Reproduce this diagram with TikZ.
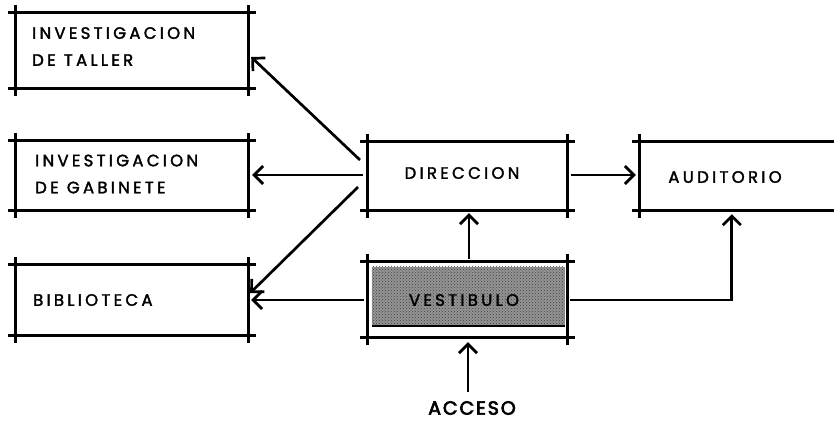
\documentclass[tikz,border=0pt]{standalone}
\usepackage{fontspec}
\setmainfont{Poppins}
\newfontfamily\hand[LetterSpace=20,FakeBold=2]{Poppins}
\newfontfamily\handb[LetterSpace=10,FakeBold=3.5]{Poppins}
\usetikzlibrary{arrows.meta,calc,patterns}
\begin{document}
\begin{tikzpicture}[x=1pt,y=-1pt,
  room/.style={inner sep=0pt, draw=none},
  frame/.style={line width=2.7pt, shorten <=-8pt, shorten >=-8pt},
  conn/.style={line width=2.7pt, -{Straight Barb[length=9pt,width=18pt,line width=2.7pt]}},
  lbl/.style={font=\hand\fontsize{16.5}{27}\selectfont, align=left, inner sep=0pt}]
\useasboundingbox (0,0) rectangle (834,421);
% rooms
\node[room, minimum width=232pt, minimum height=75pt] (taller) at (132,50.5) {};
\node[room, minimum width=232pt, minimum height=69pt] (gabinete) at (132,175.5) {};
\node[room, minimum width=232pt, minimum height=70pt] (biblio) at (132,300) {};
\node[room, minimum width=199pt, minimum height=68pt] (direccion) at (467.5,176) {};
\node[room, minimum width=199pt, minimum height=75pt] (vestibulo) at (467.5,299.5) {};
\node[room, minimum width=194pt, minimum height=68pt] (auditorio) at (737,176) {};
% vestibulo shading
\fill[black!42] ($(vestibulo.north west)+(4,5)$) rectangle ($(vestibulo.south east)+(-2,-11)$);
\fill[pattern=crosshatch dots, pattern color=black!75] ($(vestibulo.north west)+(4,5)$) rectangle ($(vestibulo.south east)+(-2,-11)$);
\draw[line width=1.8pt] ($(vestibulo.south west)+(4,-11)$) -- ($(vestibulo.south east)+(-2,-11)$);
% frames
\foreach \n in {taller,gabinete,biblio,direccion,vestibulo}{
  \draw[frame] (\n.north west) -- (\n.north east);
  \draw[frame] (\n.south west) -- (\n.south east);
  \draw[frame] (\n.north west) -- (\n.south west);
  \draw[frame] (\n.north east) -- (\n.south east);
}
\draw[line width=2.7pt, shorten <=-8pt] (auditorio.north west) -- (auditorio.north east);
\draw[line width=2.7pt, shorten <=-8pt] (auditorio.south west) -- (auditorio.south east);
\draw[frame] (auditorio.north west) -- (auditorio.south west);
\draw[line width=0.6pt, dashed, black!50] (auditorio.north east) -- (auditorio.south east);
% labels
\node[lbl, anchor=west] (tallerT) at (32,46.5) {INVESTIGACION\\DE\enspace TALLER};
\node[lbl, anchor=west] (gabineteT) at (35,174) {INVESTIGACION\\DE\enspace GABINETE};
\node[lbl, anchor=west] (biblioT) at (33,300) {BIBLIOTECA};
\node[lbl] (direccionT) at (462,173) {DIRECCION};
\node[lbl] (auditorioT) at (725,177) {AUDITORIO};
\node[lbl] (vestibuloT) at (464,300) {VESTIBULO};
\node[lbl, font=\handb\fontsize{19}{22}\selectfont] (acceso) at (472,408) {ACCESO};
% connectors
\coordinate (d1) at (360,160);
\coordinate (d2) at (363,175);
\coordinate (d3) at (358,187);
\draw[conn] (d1) -- ($(taller.east)+(3,6.5)$);
\draw[conn] (d2) -- ($(gabinete.east)+(4,-0.5)$);
\draw[conn] (d3) -- ($(biblio.east)+(2,-7)$);
\draw[conn] ($(vestibulo.west)+(-4,0.5)$) -- ($(biblio.east)+(3,0)$);
\draw[conn] ($(direccion.east)+(4,-1)$) -- ($(auditorio.west)+(-4,-1)$);
\draw[conn] ($(vestibulo.north)+(1.5,-3)$) -- ($(direccion.south)+(1.5,3)$);
\draw[conn] ($(vestibulo.east)+(3,0.5)$) -| ($(auditorio.south west)+(92,4)$);
\draw[conn] ($(acceso.north)+(-4,-9)$) -- ($(vestibulo.south)+(0.5,5)$);
\end{tikzpicture}
\end{document}
